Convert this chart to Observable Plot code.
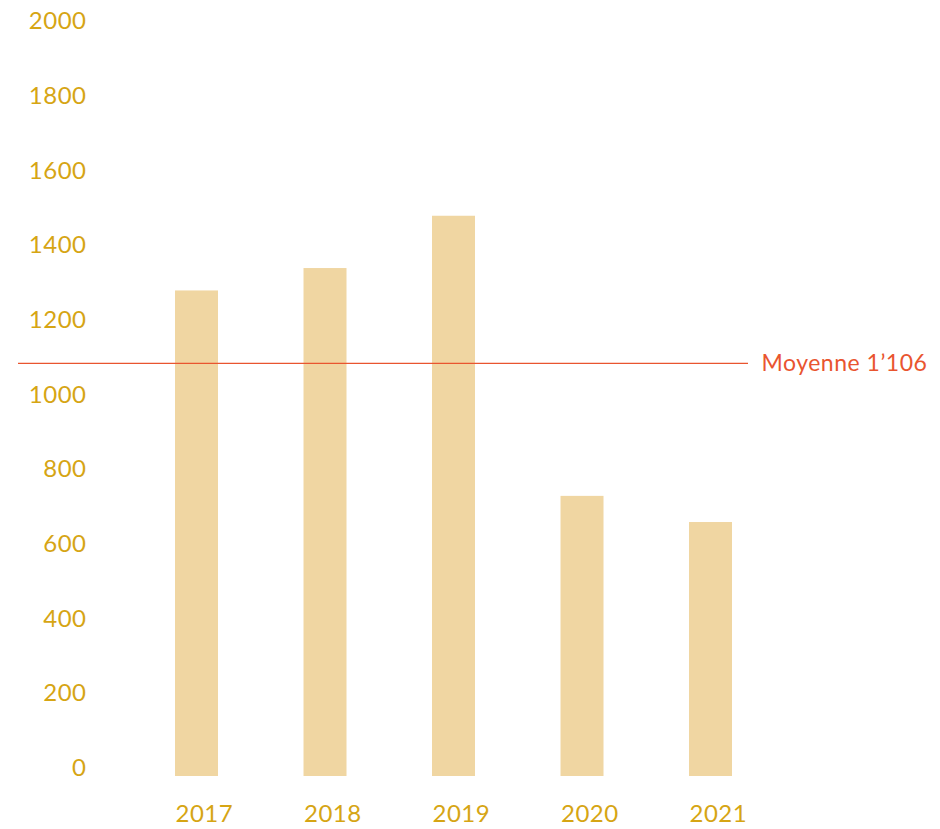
<!DOCTYPE html>
<html>
<head>
<meta charset="utf-8">
<script src="https://cdn.jsdelivr.net/npm/d3@7"></script>
<script src="https://cdn.jsdelivr.net/npm/@observablehq/plot@0.6"></script>
<style>
  html, body { margin: 0; padding: 0; background: #fff; }
  #chart svg { display: block; }
</style>
</head>
<body>
<div id="chart"></div>
<script>
const years = ["2017", "2018", "2019", "2020", "2021"];
const values = [1300, 1360, 1500, 750, 680];
const meanValue = 1106;
const meanLabel = "Moyenne 1’106";
const yTicks = [0, 200, 400, 600, 800, 1000, 1200, 1400, 1600, 1800, 2000];

const data = years.map((y, i) => ({year: y, value: values[i]}));

const gold = "#d6a514";
const barColor = "#f0d6a2";
const red = "#e9552f";
const font = "Lato, 'Open Sans', sans-serif";

const chart = Plot.plot({
  width: 940,
  height: 829,
  marginTop: 29,
  marginBottom: 53,
  marginLeft: 18,
  marginRight: 192,
  style: {fontFamily: font, fontSize: "23px", background: "#fff", letterSpacing: "0.5px"},
  x: {domain: years, paddingInner: 0.6654, paddingOuter: 0.6732, align: 0.9075, round: false},
  y: {domain: [0, 2000]},
  marks: [
    Plot.barY(data, {x: "year", y: "value", fill: barColor}),
    Plot.ruleY([meanValue], {stroke: red, strokeWidth: 1.3}),
    Plot.text([meanValue], {y: d => d, frameAnchor: "right", textAnchor: "start", dx: 13, text: () => meanLabel, fill: red, fontSize: 23}),
    Plot.axisY({ticks: yTicks, tickSize: 0, tickPadding: 3, dx: 71, dy: -8, fill: gold, fontSize: 24, label: null, tickFormat: d => String(d)}),
    Plot.axisX({tickSize: 0, tickPadding: 28, textAnchor: "start", dx: -21.5, fill: gold, fontSize: 24, label: null})
  ]
});
document.getElementById("chart").appendChild(chart);
</script>
</body>
</html>
